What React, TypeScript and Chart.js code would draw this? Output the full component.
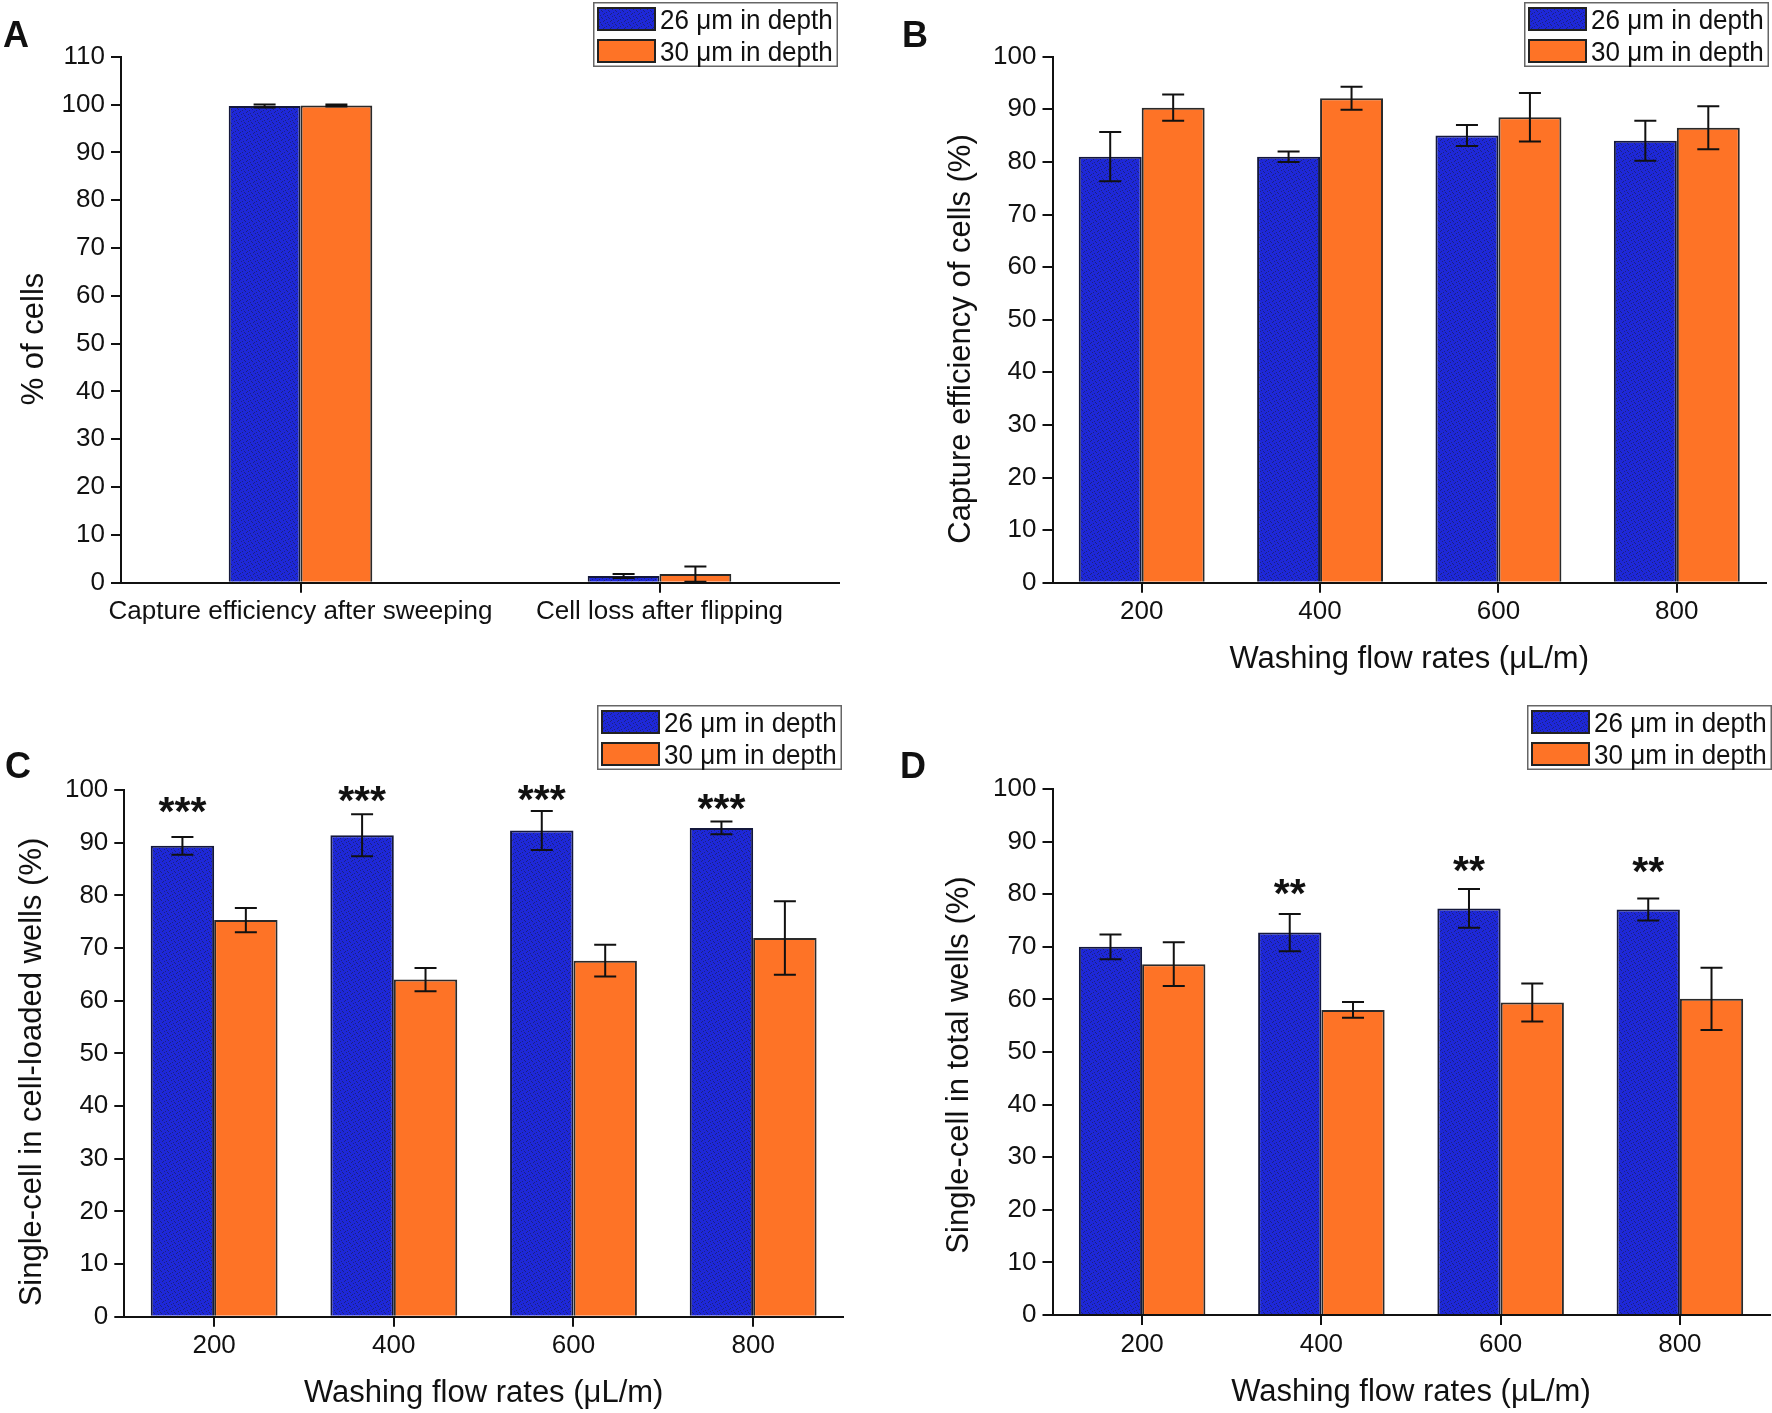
import React, { useEffect, useRef } from 'react';
import { Chart, registerables } from 'chart.js';

Chart.register(...registerables);

// ---------------- DATA ----------------
const SERIES_LABELS = ['26 μm in depth', '30 μm in depth'];

const CATEGORIES_A = ['Capture efficiency after sweeping', 'Cell loss after flipping'];
const BLUE_A = [99.7, 1.4];
const BLUE_ERR_A = [0.3, 0.4];
const ORANGE_A = [99.8, 1.8];
const ORANGE_ERR_A = [0.2, 1.6];

const FLOW_RATES = ['200', '400', '600', '800'];

const BLUE_B = [81.0, 81.0, 85.0, 84.0];
const BLUE_ERR_B = [4.7, 1.0, 2.0, 3.8];
const ORANGE_B = [90.3, 92.1, 88.5, 86.5];
const ORANGE_ERR_B = [2.5, 2.2, 4.6, 4.1];

const BLUE_C = [89.4, 91.4, 92.3, 92.8];
const BLUE_ERR_C = [1.7, 4.0, 3.7, 1.2];
const ORANGE_C = [75.3, 64.0, 67.6, 71.9];
const ORANGE_ERR_C = [2.3, 2.2, 3.0, 7.0];
const SIG_C = ['***', '***', '***', '***'];
const SIG_Y_C = [97.9, 99.9, 100.2, 98.4];

const BLUE_D = [70.0, 72.7, 77.3, 77.1];
const BLUE_ERR_D = [2.35, 3.55, 3.7, 2.1];
const ORANGE_D = [66.7, 58.0, 59.4, 60.1];
const ORANGE_ERR_D = [4.15, 1.5, 3.6, 5.9];
const SIG_D = ['', '**', '**', '**'];
const SIG_Y_D = [0, 82.0, 86.5, 86.2];

const Y_MAX_A = 110;
const Y_MAX = 100;
const Y_STEP = 10;

const TITLE_Y_A = '% of cells';
const TITLE_Y_B = 'Capture efficiency of cells (%)';
const TITLE_Y_C = 'Single-cell in cell-loaded wells (%)';
const TITLE_Y_D = 'Single-cell in total wells (%)';
const TITLE_X = 'Washing flow rates (μL/m)';

// ---------------- STYLE / LAYOUT ----------------
const FONT = "'Liberation Sans', Arial, Helvetica, sans-serif";
const ORANGE = '#fe7326';
const BLUE_BASE = '#1e28d8';
const BLUE_DOT = '#1a2280';
const INK = '#111111';

type Panel = {
  letter: string;
  x: number; y: number; w: number; h: number;
  left: number; right: number; top: number; bottom: number;
  labels: string[];
  values: number[][];
  errors: number[][];
  yMax: number;
  catPct: number;
  yTitle: string;
  yTitleX: number; yTitleY: number;
  xTitle: string;
  letterX: number; letterY: number;
  legendX: number; legendY: number;
  sig?: string[];
  sigY?: number[];
};

const PANELS: Panel[] = [
  {
    letter: 'A', x: 0, y: 0, w: 886, h: 700,
    left: 121, right: 839, top: 56.7, bottom: 582.7,
    labels: CATEGORIES_A, values: [BLUE_A, ORANGE_A], errors: [BLUE_ERR_A, ORANGE_ERR_A],
    yMax: Y_MAX_A, catPct: 0.4,
    yTitle: TITLE_Y_A, yTitleX: 43, yTitleY: 339, xTitle: '',
    letterX: 3, letterY: 47, legendX: 593, legendY: 2,
  },
  {
    letter: 'B', x: 886, y: 0, w: 886, h: 700,
    left: 166.5, right: 880, top: 56.7, bottom: 582.7,
    labels: FLOW_RATES, values: [BLUE_B, ORANGE_B], errors: [BLUE_ERR_B, ORANGE_ERR_B],
    yMax: Y_MAX, catPct: 0.706,
    yTitle: TITLE_Y_B, yTitleX: 84, yTitleY: 339, xTitle: TITLE_X,
    letterX: 16, letterY: 47, legendX: 638, legendY: 2,
  },
  {
    letter: 'C', x: 0, y: 700, w: 886, h: 713,
    left: 124.3, right: 843, top: 90, bottom: 616.7,
    labels: FLOW_RATES, values: [BLUE_C, ORANGE_C], errors: [BLUE_ERR_C, ORANGE_ERR_C],
    yMax: Y_MAX, catPct: 0.706,
    yTitle: TITLE_Y_C, yTitleX: 41, yTitleY: 372, xTitle: TITLE_X,
    letterX: 5, letterY: 78, legendX: 597, legendY: 5,
    sig: SIG_C, sigY: SIG_Y_C,
  },
  {
    letter: 'D', x: 886, y: 700, w: 886, h: 713,
    left: 166.5, right: 883.5, top: 89, bottom: 615,
    labels: FLOW_RATES, values: [BLUE_D, ORANGE_D], errors: [BLUE_ERR_D, ORANGE_ERR_D],
    yMax: Y_MAX, catPct: 0.706,
    yTitle: TITLE_Y_D, yTitleX: 82, yTitleY: 365, xTitle: TITLE_X,
    letterX: 14, letterY: 78, legendX: 641, legendY: 5,
    sig: SIG_D, sigY: SIG_Y_D,
  },
];

function makeBluePattern(ctx: CanvasRenderingContext2D): CanvasPattern | string {
  const tile = document.createElement('canvas');
  tile.width = 7;
  tile.height = 7;
  const t = tile.getContext('2d');
  if (!t) return BLUE_BASE;
  t.fillStyle = BLUE_BASE;
  t.fillRect(0, 0, 7, 7);
  t.fillStyle = BLUE_DOT;
  const dots = [[1, 0], [5, 1], [3, 2], [0, 4], [4, 5], [6, 3], [2, 6]];
  dots.forEach(([dx, dy]) => t.fillRect(dx, dy, 1, 1));
  const pat = ctx.createPattern(tile, 'repeat');
  return pat || BLUE_BASE;
}

function buildChart(canvas: HTMLCanvasElement, p: Panel): Chart {
  const ctx = canvas.getContext('2d') as CanvasRenderingContext2D;
  const bluePat = makeBluePattern(ctx);
  const fills = [bluePat, ORANGE];

  const overlay = {
    id: 'overlay' + p.letter,
    afterDatasetsDraw(chart: any) {
      const c = chart.ctx as CanvasRenderingContext2D;
      const ys = chart.scales.y;
      c.save();
      c.strokeStyle = INK;
      c.lineWidth = 2;
      p.values.forEach((vals, d) => {
        const meta = chart.getDatasetMeta(d);
        vals.forEach((v, i) => {
          const el = meta.data[i];
          if (!el) return;
          const e = p.errors[d][i];
          const x = el.x;
          const yT = ys.getPixelForValue(v + e);
          const yB = ys.getPixelForValue(Math.max(0, v - e));
          const cap = 11;
          c.beginPath();
          c.moveTo(x, yB);
          c.lineTo(x, yT);
          c.moveTo(x - cap, yT);
          c.lineTo(x + cap, yT);
          c.moveTo(x - cap, yB);
          c.lineTo(x + cap, yB);
          c.stroke();
        });
      });
      if (p.sig && p.sigY) {
        const meta = chart.getDatasetMeta(0);
        c.fillStyle = INK;
        const size = 41;
        c.font = `bold ${size}px ${FONT}`;
        c.textAlign = 'center';
        c.textBaseline = 'alphabetic';
        p.sig.forEach((s, i) => {
          if (!s) return;
          const el = meta.data[i];
          const yc = ys.getPixelForValue(p.sigY![i]);
          c.fillText(s, el.x, yc + 0.58 * size);
        });
      }
      c.restore();
    },
    afterDraw(chart: any) {
      const c = chart.ctx as CanvasRenderingContext2D;
      const area = chart.chartArea;
      c.save();
      c.fillStyle = INK;
      // panel letter
      c.font = `bold 36px ${FONT}`;
      c.textAlign = 'left';
      c.textBaseline = 'alphabetic';
      c.fillText(p.letter, p.letterX, p.letterY);
      // y title
      c.font = `31px ${FONT}`;
      c.save();
      c.translate(p.yTitleX, p.yTitleY);
      c.rotate(-Math.PI / 2);
      c.textAlign = 'center';
      c.fillText(p.yTitle, 0, 0);
      c.restore();
      // x title
      if (p.xTitle) {
        c.textAlign = 'center';
        c.fillText(p.xTitle, (area.left + area.right) / 2, area.bottom + 85.5);
      }
      // legend
      const lx = p.legendX, ly = p.legendY, lw = 245, lh = 65;
      c.fillStyle = '#ffffff';
      c.fillRect(lx, ly, lw, lh);
      c.strokeStyle = '#666666';
      c.lineWidth = 1.5;
      c.strokeRect(lx + 0.75, ly + 0.75, lw - 1.5, lh - 1.5);
      SERIES_LABELS.forEach((lab, k) => {
        const sy = ly + 6 + k * 32;
        c.fillStyle = fills[k] as any;
        c.fillRect(lx + 5, sy, 57, 22);
        c.strokeStyle = '#222222';
        c.lineWidth = 2;
        c.strokeRect(lx + 5, sy, 57, 22);
        c.fillStyle = INK;
        c.font = `28px ${FONT}`;
        c.textAlign = 'left';
        c.save();
        c.translate(lx + 67, sy + 21);
        c.scale(0.93, 1);
        c.fillText(lab, 0, 0);
        c.restore();
      });
      c.restore();
    },
  };

  const xAxisH = p.h - p.bottom;

  return new Chart(canvas, {
    type: 'bar',
    data: {
      labels: p.labels,
      datasets: p.values.map((vals, d) => ({
        label: SERIES_LABELS[d],
        data: vals,
        backgroundColor: fills[d] as any,
        borderColor: d === 0 ? '#14183c' : '#2a2a2a',
        borderWidth: 2,
        borderSkipped: 'bottom',
        categoryPercentage: p.catPct,
        barPercentage: 1.0,
      })),
    },
    options: {
      responsive: false,
      animation: false,
      events: [],
      devicePixelRatio: 1,
      layout: { padding: { left: 0, top: p.top, right: p.w - p.right, bottom: 0 } },
      plugins: { legend: { display: false }, tooltip: { enabled: false } },
      scales: {
        x: {
          type: 'category',
          offset: true,
          grid: { drawOnChartArea: false, offset: false, color: INK, lineWidth: 2, tickLength: 10, drawTicks: true },
          border: { display: true, color: INK, width: 2 },
          ticks: { font: { family: FONT, size: 26 }, color: INK, padding: 4, maxRotation: 0, minRotation: 0, autoSkip: false },
          afterFit: (s: any) => { s.height = xAxisH; },
        },
        y: {
          min: 0,
          max: p.yMax,
          grid: { drawOnChartArea: false, color: INK, lineWidth: 2, tickLength: 10, drawTicks: true },
          border: { display: true, color: INK, width: 2 },
          ticks: { stepSize: Y_STEP, font: { family: FONT, size: 26 }, color: INK, padding: 6 },
          afterFit: (s: any) => { s.width = p.left; },
        },
      },
    },
    plugins: [overlay],
  } as any);
}

export default function App() {
  const r0 = useRef<HTMLCanvasElement>(null);
  const r1 = useRef<HTMLCanvasElement>(null);
  const r2 = useRef<HTMLCanvasElement>(null);
  const r3 = useRef<HTMLCanvasElement>(null);
  const refs = [r0, r1, r2, r3];

  useEffect(() => {
    const charts: Chart[] = [];
    PANELS.forEach((p, i) => {
      const cv = refs[i].current;
      if (cv) charts.push(buildChart(cv, p));
    });
    return () => charts.forEach((c) => c.destroy());
  }, []);

  return (
    <div style={{ position: 'absolute', left: 0, top: 0, width: 1772, height: 1413, background: '#ffffff' }}>
      {PANELS.map((p, i) => (
        <canvas
          key={p.letter}
          ref={refs[i]}
          width={p.w}
          height={p.h}
          style={{ position: 'absolute', left: p.x, top: p.y, width: p.w, height: p.h }}
        />
      ))}
    </div>
  );
}
